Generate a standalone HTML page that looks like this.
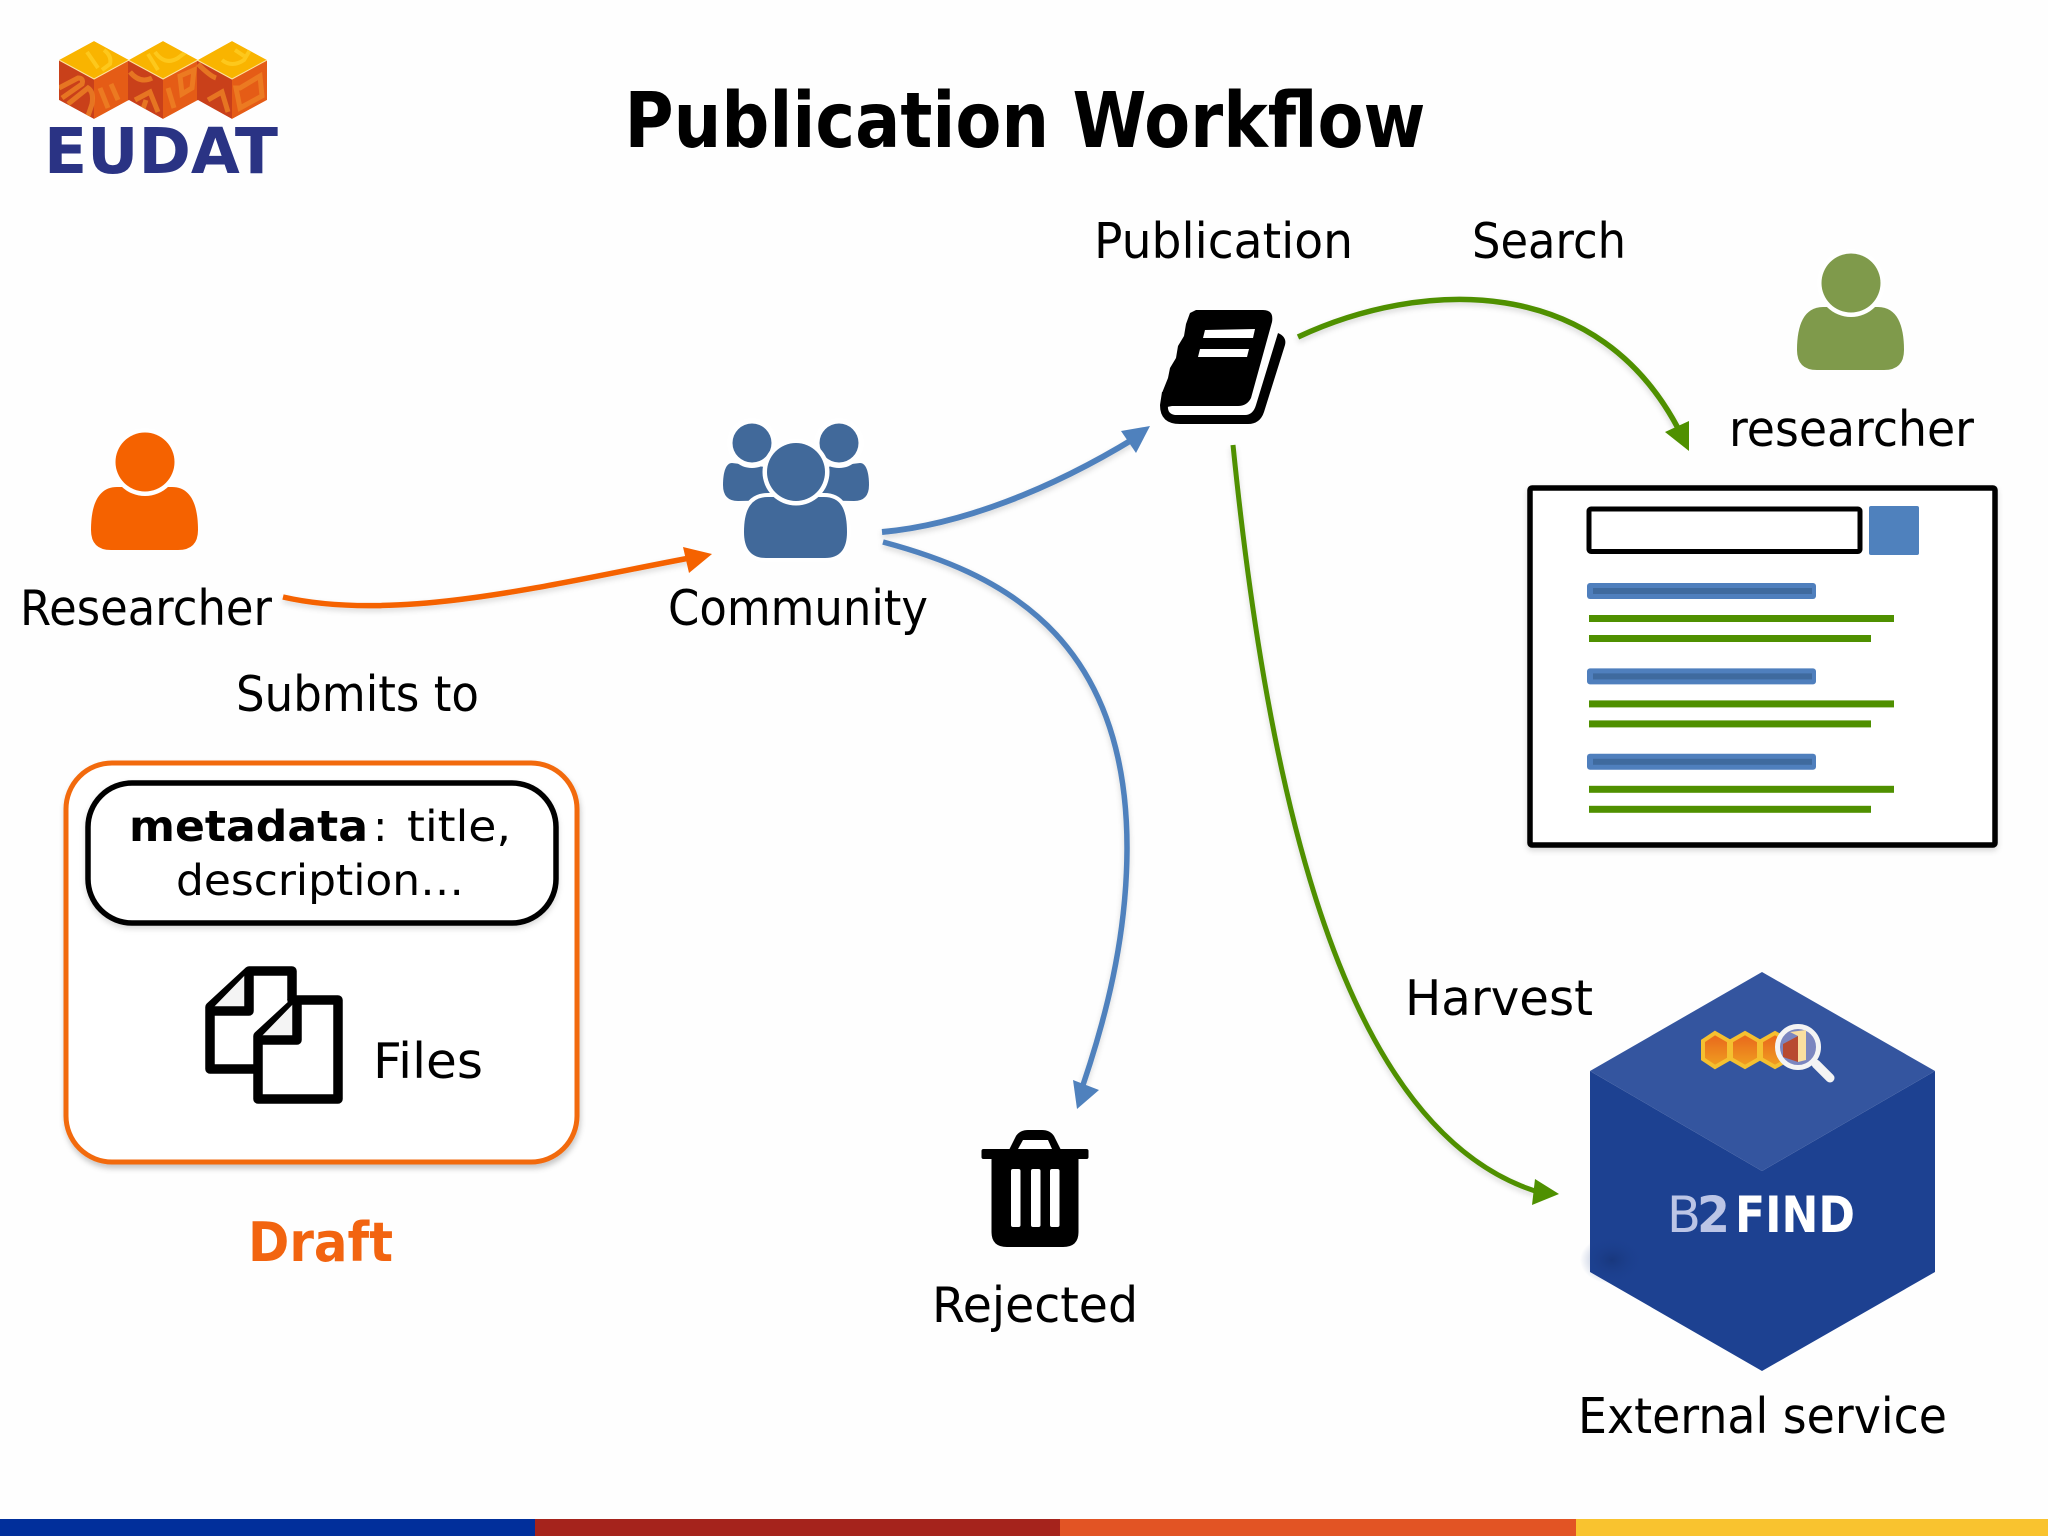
<!DOCTYPE html>
<html lang="en">
<head>
<meta charset="utf-8">
<title>Publication Workflow</title>
<style>
html,body{margin:0;padding:0;background:#fefefe;width:2048px;height:1536px;overflow:hidden}
svg{display:block}
text{font-family:"DejaVu Sans","Liberation Sans",sans-serif;fill:#000;font-size:49px}
.b{font-weight:700}
</style>
</head>
<body>
<svg width="2048" height="1536" viewBox="0 0 2048 1536" xmlns="http://www.w3.org/2000/svg">
<defs>
<filter id="sh" x="-5%" y="-5%" width="110%" height="115%">
<feDropShadow dx="1" dy="4" stdDeviation="3" flood-color="#000" flood-opacity=".22"/>
</filter>
<filter id="ln" x="-10%" y="-10%" width="120%" height="130%">
<feDropShadow dx="0" dy="3" stdDeviation="3" flood-color="#000" flood-opacity=".15"/>
</filter>
<linearGradient id="hx" x1="0" y1="0" x2="0" y2="1"><stop offset="0" stop-color="#e8641c"/><stop offset="1" stop-color="#f0a020"/></linearGradient>
<radialGradient id="dk"><stop offset="0" stop-color="#142f6c" stop-opacity=".75"/><stop offset="1" stop-color="#1d4191" stop-opacity="0"/></radialGradient>
<clipPath id="cb"><polygon points="59,60 94,41 129,60 163,41 198,60 232,41 267,60 267,100 232,119 198,100 163,119 129,100 94,119 59,100"/></clipPath>
</defs>
<rect width="2048" height="1536" fill="#fefefe"/>

<!-- EUDAT logo -->
<g clip-path="url(#cb)">
<polygon points="94,41 129,60 94,79 59,60" fill="#f9b400"/>
<polygon points="59,60 94,79 94,119 59,100" fill="#c9401a"/>
<polygon points="94,79 129,60 129,100 94,119" fill="#e55c16"/>
<polygon points="163,41 198,60 163,79 128,60" fill="#f9b400"/>
<polygon points="128,60 163,79 163,119 128,100" fill="#c9401a"/>
<polygon points="163,79 198,60 198,100 163,119" fill="#e55c16"/>
<polygon points="232,41 267,60 232,79 197,60" fill="#f9b400"/>
<polygon points="197,60 232,79 232,119 197,100" fill="#c9401a"/>
<polygon points="232,79 267,60 267,100 232,119" fill="#e55c16"/>
<g fill="none" stroke="#fdc81c" stroke-width="4">
<path d="M87 52L98 68M104 50Q112 56 110 64L102 70"/>
<path d="M155 52Q165 66 178 58L186 52M148 54L158 70"/>
<path d="M222 60Q232 68 244 60L250 50M235 50L244 56"/>
</g>
<g fill="none" stroke="#ee8224" stroke-width="5" stroke-opacity=".8">
<path d="M59 88L78 78Q84 78 82 84L62 98M68 104L88 88Q94 92 92 104L88 116"/>
<path d="M100 88L108 108M111 84L118 100"/>
<path d="M130 72Q140 84 152 78M135 100L150 92L158 112M142 112L146 100"/>
<path d="M168 88L174 108M180 76L194 70L192 88L182 94Z"/>
<path d="M198 64Q210 76 216 78M208 100L222 92L228 112"/>
<path d="M236 88L240 108L262 96L260 76L240 88Z"/>
</g>
<path d="M59 60L94 79L129 60M128 60L163 79L198 60M197 60L232 79L267 60" fill="none" stroke="#fde3a0" stroke-width="1"/>
</g>
<text x="44" y="173" class="b" style="font-size:63px;fill:#2a3384" textLength="234" lengthAdjust="spacingAndGlyphs">EUDAT</text>

<!-- Title -->
<text x="624.5" y="147" class="b" style="font-size:77px" textLength="801" lengthAdjust="spacingAndGlyphs">Publication Workflow</text>

<!-- Orange researcher -->
<path d="M91 530C91 505 98 487 117 487L172 487C191 487 198 505 198 530Q198 550 178 550L111 550Q91 550 91 530Z" fill="#f56200"/>
<circle cx="145" cy="462" r="34" fill="#fff"/>
<circle cx="145" cy="462" r="29.5" fill="#f56200"/>
<text x="20" y="625" textLength="252" lengthAdjust="spacingAndGlyphs">Researcher</text>
<text x="236" y="711" textLength="243" lengthAdjust="spacingAndGlyphs">Submits to</text>

<!-- Connectors -->
<g fill="none" stroke-linecap="butt" filter="url(#ln)">
<path d="M283 597C400 624 560 582 695 557" stroke="#f56200" stroke-width="5.5"/>
<path d="M882 532C960 525 1050 490 1135 438" stroke="#4f81bd" stroke-width="6"/>
<path d="M883 542C995 572 1128 632 1127 850C1126.5 940 1105 1020 1083 1085" stroke="#4f81bd" stroke-width="5.5"/>
<path d="M1298 337C1420 280 1600 270 1682 436" stroke="#4f9000" stroke-width="5.5"/>
<path d="M1233 445C1268 790 1340 1127 1535 1191" stroke="#4f9000" stroke-width="5"/>
</g>
<polygon points="712,554 683,547 689,573" fill="#f56200"/>
<polygon points="1150,426 1121,431 1136,453" fill="#4f81bd"/>
<polygon points="1077,1109 1073,1080 1099,1090" fill="#4f81bd"/>
<polygon points="1689,451 1665,432 1689,421" fill="#4f9000"/>
<polygon points="1559,1194 1535,1179 1532,1205" fill="#4f9000"/>

<!-- Community -->
<g fill="#41699a">
<path d="M723 485C723 472 726 463 732 463L790 470L790 500L738 501Q723 501 723 485Z"/>
<path d="M869 485C869 472 866 463 860 463L802 470L802 500L854 501Q869 501 869 485Z"/>
<circle cx="752" cy="443" r="25" fill="#fff"/>
<circle cx="839" cy="443" r="25" fill="#fff"/>
<circle cx="752" cy="443" r="19.5"/>
<circle cx="839" cy="443" r="19.5"/>
<path d="M742 532C742 508 750 495 768 495L824 495C842 495 849 508 849 532Q849 560 825 560L766 560Q742 560 742 532Z" stroke="#fff" stroke-width="4"/>
<circle cx="796" cy="472" r="33.5" fill="#fff"/>
<circle cx="796" cy="472" r="29"/>
</g>
<text x="668" y="625" textLength="260" lengthAdjust="spacingAndGlyphs">Community</text>

<!-- Book -->
<path d="M1278 333Q1287 337 1285 345L1264 412Q1260 424 1248 424L1180 424Q1160 424 1160 405L1162 392L1200 392Z" fill="#000"/>
<path d="M1270 315L1278 333L1256 405Q1253 415 1245 415L1175 415Q1167 414 1168 405L1240 395Z" fill="#fff"/>
<path d="M1196 310L1263 310Q1274 310 1272 322L1251 398Q1247 406 1238 406L1172 406L1162 408L1162 393L1168 378L1170 368L1176 358L1178 346L1184 336L1186 324L1190 313Z" fill="#000"/>
<polygon points="1205,330 1255,329 1253,338 1203,338" fill="#fff"/>
<polygon points="1200,349 1249,349 1247,357 1198,357" fill="#fff"/>
<text x="1094" y="258" textLength="259" lengthAdjust="spacingAndGlyphs">Publication</text>
<text x="1472" y="258" textLength="154" lengthAdjust="spacingAndGlyphs">Search</text>

<!-- Green researcher -->
<path d="M1797 350C1797 325 1804 307 1823 307L1878 307C1897 307 1904 325 1904 350Q1904 370 1884 370L1817 370Q1797 370 1797 350Z" fill="#7f9a4b"/>
<circle cx="1851" cy="283" r="34" fill="#fff"/>
<circle cx="1851" cy="283" r="29.5" fill="#7f9a4b"/>
<text x="1729" y="446" textLength="245" lengthAdjust="spacingAndGlyphs">researcher</text>

<!-- Search results window -->
<rect x="1530" y="488" width="465" height="357" fill="#fff" stroke="#000" stroke-width="5.5" rx="2" filter="url(#ln)"/>
<rect x="1589" y="509" width="271" height="42.5" fill="#fff" stroke="#000" stroke-width="5" rx="2"/>
<rect x="1869" y="506" width="50" height="49" fill="#4f81bd" rx="2"/>
<g>
<rect x="1587" y="583" width="229" height="16" rx="3" fill="#4f7fbd"/>
<rect x="1593" y="588" width="219" height="6" fill="#3f6a9e"/>
<rect x="1589" y="615" width="305" height="7" fill="#4f9000"/>
<rect x="1589" y="635" width="282" height="7" fill="#4f9000"/>
</g>
<g transform="translate(0 85.4)">
<rect x="1587" y="583" width="229" height="16" rx="3" fill="#4f7fbd"/>
<rect x="1593" y="588" width="219" height="6" fill="#3f6a9e"/>
<rect x="1589" y="615" width="305" height="7" fill="#4f9000"/>
<rect x="1589" y="635" width="282" height="7" fill="#4f9000"/>
</g>
<g transform="translate(0 170.8)">
<rect x="1587" y="583" width="229" height="16" rx="3" fill="#4f7fbd"/>
<rect x="1593" y="588" width="219" height="6" fill="#3f6a9e"/>
<rect x="1589" y="615" width="305" height="7" fill="#4f9000"/>
<rect x="1589" y="635" width="282" height="7" fill="#4f9000"/>
</g>

<!-- Draft box -->
<rect x="66" y="763" width="511" height="399" rx="46" fill="#fff" stroke="#f26a10" stroke-width="5" filter="url(#sh)"/>
<rect x="88" y="783" width="468" height="140" rx="44" fill="#fff" stroke="#000" stroke-width="5.5" filter="url(#ln)"/>
<text x="129" y="841" style="font-size:43px"><tspan class="b" textLength="239" lengthAdjust="spacingAndGlyphs">metadata</tspan></text>
<text x="373" y="841" style="font-size:43px">:</text>
<text x="407" y="841" style="font-size:43px" textLength="104" lengthAdjust="spacingAndGlyphs">title,</text>
<text x="176" y="895" style="font-size:43px" textLength="288" lengthAdjust="spacingAndGlyphs">description…</text>

<!-- Files icon -->
<g fill="none" stroke="#000" stroke-width="9.5" stroke-linejoin="round">
<path d="M292 1000L292 971L249 971L210 1007L210 1069L258 1069" fill="#fff"/>
<path d="M249 971L249 1011L210 1011" fill="#f4f4f4"/>
<path d="M292 1000L338 1000L338 1099L258 1099L258 1036L297 1000Z" fill="#fff"/>
<path d="M297 1000L297 1040L258 1040" fill="#f4f4f4"/>
</g>
<text x="373" y="1078" textLength="110" lengthAdjust="spacingAndGlyphs">Files</text>
<text x="248" y="1261" class="b" style="font-size:54px;fill:#f26410" textLength="145" lengthAdjust="spacingAndGlyphs">Draft</text>

<!-- Trash -->
<g fill="#000">
<path d="M1008 1152L1016 1136Q1020 1130 1028 1130L1042 1130Q1050 1130 1054 1136L1062 1152Z"/>
<rect x="981.5" y="1149" width="107" height="10" rx="2"/>
<path d="M991.5 1155L1078.5 1155L1078.5 1232Q1078.5 1247 1063 1247L1007 1247Q991.5 1247 991.5 1232Z"/>
</g>
<polygon points="1023,1140 1048,1140 1052,1149 1018,1149" fill="#fff"/>
<g fill="#fff">
<rect x="1011" y="1169" width="9.5" height="58" rx="2"/>
<rect x="1031" y="1169" width="9.5" height="58" rx="2"/>
<rect x="1050" y="1169" width="9.5" height="58" rx="2"/>
</g>
<text x="932" y="1322" textLength="206" lengthAdjust="spacingAndGlyphs">Rejected</text>

<!-- Hexagon -->
<polygon points="1762,1171 1935,1071 1935,1272 1762,1371 1590,1272 1590,1071" fill="#1d4191"/>
<polygon points="1762,972 1935,1071 1762,1171 1590,1071" fill="#34559f"/>
<ellipse cx="1612" cy="1260" rx="32" ry="24" fill="url(#dk)" opacity=".7"/>
<g stroke="#f5c030" stroke-width="4" fill="url(#hx)">
<polygon points="1715,1033 1729,1041 1729,1059 1715,1067 1703,1059 1703,1041"/>
<polygon points="1745,1033 1759,1041 1759,1059 1745,1067 1731,1059 1731,1041"/>
<polygon points="1775,1033 1789,1041 1789,1059 1775,1067 1761,1059 1761,1041"/>
</g>
<line x1="1816" y1="1064" x2="1830" y2="1078" stroke="#f4f4f4" stroke-width="9" stroke-linecap="round"/>
<circle cx="1798" cy="1047" r="20.5" fill="#7b86c0" stroke="#f4f4f4" stroke-width="5"/>
<polygon points="1783,1044 1798,1036 1798,1062 1783,1057" fill="#b84a30"/>
<polygon points="1790,1032 1806,1030 1806,1060 1798,1062 1798,1036" fill="#fadfa0"/>
<text x="1667" y="1232" style="font-size:50px;fill:#bcc5e6" textLength="34" lengthAdjust="spacingAndGlyphs">B</text>
<text x="1697" y="1232" class="b" style="font-size:50px;fill:#bcc5e6" textLength="33" lengthAdjust="spacingAndGlyphs">2</text>
<text x="1735" y="1232" class="b" style="font-size:50px;fill:#fff" textLength="120" lengthAdjust="spacingAndGlyphs">FIND</text>

<text x="1405" y="1015" textLength="188" lengthAdjust="spacingAndGlyphs">Harvest</text>
<text x="1578" y="1433" textLength="369" lengthAdjust="spacingAndGlyphs">External service</text>

<!-- Bottom bar -->
<rect x="0" y="1519" width="535" height="17" fill="#012f9b"/>
<rect x="535" y="1519" width="525" height="17" fill="#a5231c"/>
<rect x="1060" y="1519" width="516" height="17" fill="#e25424"/>
<rect x="1576" y="1519" width="472" height="17" fill="#f9c32f"/>
</svg>
</body>
</html>
